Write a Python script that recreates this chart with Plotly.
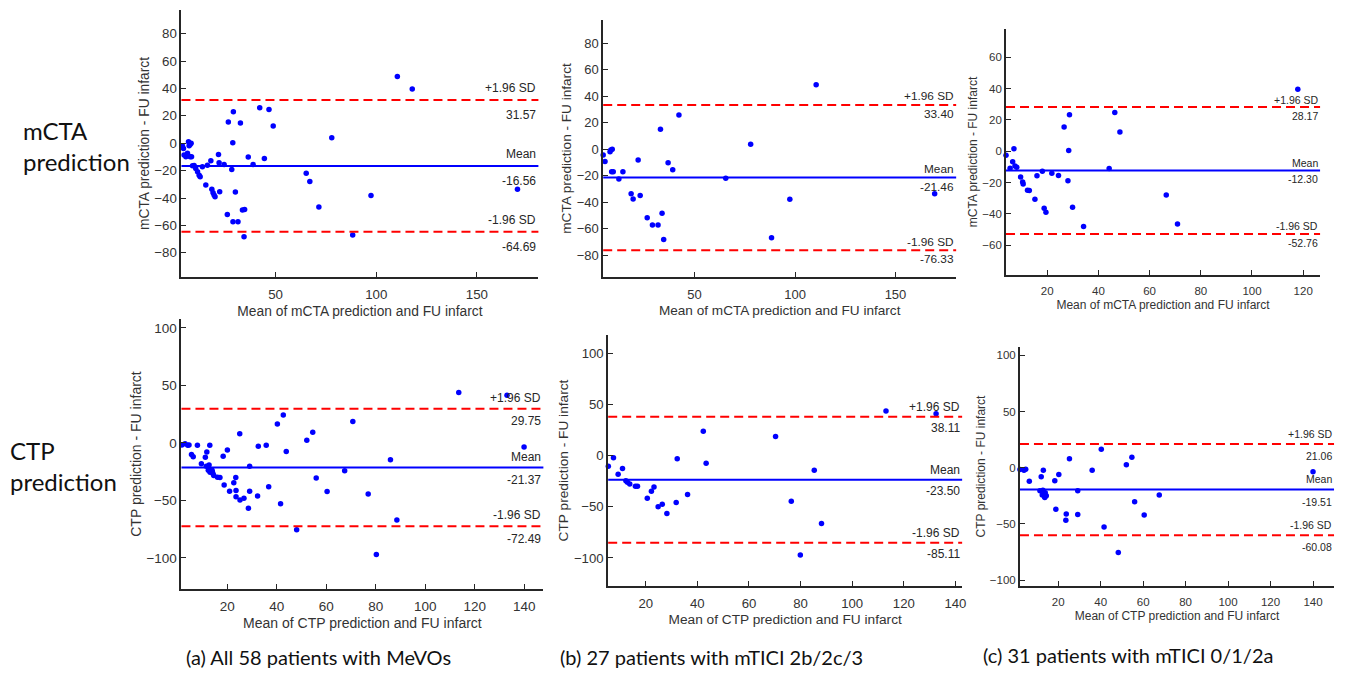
import plotly.graph_objects as go

# ---------------- DATA ----------------
# Row 1: mCTA prediction ; Row 2: CTP prediction
# (a) all 58 patients, (b) 27 patients mTICI 2b/2c/3, (c) 31 patients mTICI 0/1/2a

a_mcta_x = [2.9, 3.7, 4.2, 4.5, 5.4, 6.7, 7.5, 8.0, 7.0, 6.2, 7.5, 8.2, 8.7, 9.5, 10.3,
            11.2, 12.0, 12.5, 13.6, 15.3, 16.1, 17.8, 18.3, 18.9, 19.4, 19.9, 21.6, 21.9,
            22.2, 24.4, 26.0, 26.5, 28.2, 28.7, 29.0, 28.8, 30.0, 31.3, 32.5, 33.5, 34.6,
            34.3, 36.4, 38.8, 42.1, 44.4, 46.7, 48.8, 65.2, 67.0, 71.5, 77.9, 88.3, 97.4,
            110.5, 117.9, 170.2]
a_mcta_y = [0.0, -2.0, -3.8, -8.6, -9.9, 1.1, -0.9, 0.0, -1.8, -7.4, -9.9, -9.9, -16.4,
            -16.2, -18.4, -20.8, -23.3, -24.5, -17.2, -30.6, -16.0, -12.8, -33.7, -36.2,
            -37.9, -39.1, -8.2, -14.2, -35.4, -15.5, -52.0, 15.5, -19.1, 0.4, 23.0, -57.4,
            -35.7, -57.4, 14.7, -48.8, -48.4, -68.3, -10.1, -15.5, 25.9, -11.1, 24.7, 12.5,
            -22.0, -27.9, -46.6, 4.0, -67.1, -38.1, 48.8, 39.6, -33.7]

b_mcta_x = [4.5, 5.4, 7.9, 8.3, 9.0, 8.7, 9.5, 12.3, 14.3, 18.4, 19.4, 21.9, 22.9, 26.4,
            29.0, 31.8, 33.0, 33.8, 34.6, 36.8, 39.1, 42.2, 65.5, 77.9, 88.3, 97.4, 110.5,
            169.5]
b_mcta_y = [-4.4, -9.4, -1.9, -0.6, 0.0, -17.0, -17.0, -22.5, -17.0, -33.6, -37.7, -8.2,
            -35.1, -51.8, -57.3, -57.3, 15.0, -48.5, -68.2, -10.2, -15.5, 25.8, -22.0, 3.7,
            -66.9, -37.9, 48.7, -33.6]

c_mcta_x = [3.2, 3.9, 5.5, 6.5, 7.0, 7.4, 8.1, 9.6, 10.4, 10.6, 12.3, 13.0, 15.2, 16.0,
            18.1, 18.8, 19.5, 21.8, 24.4, 26.6, 28.1, 28.4, 28.7, 29.9, 34.2, 44.2, 46.4,
            48.4, 66.5, 70.9, 117.9]
c_mcta_y = [0.4, -2.6, -10.9, -6.8, 1.5, -9.4, -10.2, -16.4, -19.6, -20.9, -24.9, -25.1,
            -30.6, -15.7, -12.8, -36.4, -38.9, -14.0, -15.5, 15.5, -18.9, 0.4, 23.2, -35.7,
            -48.1, -11.1, 24.7, 12.3, -27.9, -46.4, 39.6]

a_ctp_x = [1.6, 2.9, 4.0, 4.5, 5.5, 6.2, 7.9, 9.5, 11.1, 11.7, 11.5, 12.6, 12.9, 12.3,
           13.0, 13.7, 14.2, 13.9, 14.5, 16.0, 17.0, 18.3, 18.7, 20.0, 20.9, 22.6, 23.4,
           23.5, 23.5, 25.0, 25.1, 26.7, 28.5, 29.0, 29.0, 32.2, 32.5, 35.7, 36.7, 40.2,
           41.5, 42.6, 43.8, 48.0, 52.1, 54.5, 55.9, 60.3, 67.4, 70.7, 76.9, 80.2, 85.9,
           88.5, 113.5, 133.0, 139.9]
a_ctp_y = [-1.7, -0.6, -2.0, -1.7, -10.1, -11.9, -2.0, -18.0, -12.5, -7.8, -20.3, -19.1,
           -2.0, -23.8, -25.5, -23.2, -26.7, -24.6, -28.4, -29.9, -30.1, -11.6, -36.5, -6.1,
           -42.0, -34.5, -30.1, -41.4, -46.7, 8.1, -49.6, -48.1, -56.8, -20.3, -42.0, -46.1,
           -2.9, -2.0, -38.0, 16.5, -52.8, 24.3, -7.5, -75.4, 2.3, 9.3, -30.4, -42.3, -24.1,
           18.6, -44.3, -97.1, -14.5, -67.0, 43.8, 41.4, -3.5]

b_ctp_x = [5.5, 7.5, 9.3, 11.0, 12.3, 12.9, 13.8, 16.0, 16.8, 20.6, 22.2, 23.2, 24.8,
           26.4, 28.2, 31.8, 32.2, 36.2, 42.3, 43.4, 70.3, 76.4, 79.9, 85.3, 88.1, 113.1,
           132.5]
b_ctp_y = [-10.3, -2.1, -18.1, -12.6, -24.6, -25.9, -27.6, -29.9, -29.9, -41.6, -34.8,
           -30.5, -49.8, -47.5, -56.6, -45.8, -3.1, -38.0, 24.0, -7.3, 18.8, -44.5, -97.1,
           -14.2, -66.4, 43.6, 40.9]

c_ctp_x = [2.0, 3.9, 4.7, 6.4, 12.0, 11.4, 13.0, 12.8, 12.5, 13.6, 13.9, 14.4, 13.7, 18.4,
           18.9, 20.3, 23.8, 23.6, 25.3, 29.2, 29.2, 36.0, 40.3, 41.6, 48.3, 52.1, 54.7,
           56.0, 60.5, 67.6, 140.0]
c_ctp_y = [-1.6, -2.2, -1.3, -12.0, -8.1, -20.6, -2.2, -20.0, -24.4, -25.9, -22.4, -25.0,
           -26.5, -11.7, -36.9, -6.1, -41.3, -46.7, 7.9, -20.6, -41.6, -2.2, 16.4, -52.9,
           -75.4, 2.5, 9.3, -30.4, -42.2, -24.4, -3.7]

# Bland-Altman statistics: [+1.96 SD, mean, -1.96 SD]
a_mcta_stats = [31.57, -16.56, -64.69]
b_mcta_stats = [33.40, -21.46, -76.33]
c_mcta_stats = [28.17, -12.30, -52.76]
a_ctp_stats = [29.75, -21.37, -72.49]
b_ctp_stats = [38.11, -23.50, -85.11]
c_ctp_stats = [21.06, -19.51, -60.08]

stat_labels = ["+1.96 SD", "Mean", "-1.96 SD"]

# tick values
top_ab_xticks = [50, 100, 150]
top_c_xticks = [20, 40, 60, 80, 100, 120]
bottom_xticks = [20, 40, 60, 80, 100, 120, 140]
top_ab_yticks = [-80, -60, -40, -20, 0, 20, 40, 60, 80]
top_c_yticks = [-60, -40, -20, 0, 20, 40, 60]
bottom_yticks = [-100, -50, 0, 50, 100]

mcta_xtitle = "Mean of mCTA prediction and FU infarct"
mcta_ytitle = "mCTA prediction - FU infarct"
ctp_xtitle = "Mean of CTP prediction and FU infarct"
ctp_ytitle = "CTP prediction - FU infarct"

row_labels = ["mCTA<br>prediction", "CTP<br>prediction"]
captions = ["(a) All 58 patients with MeVOs",
            "(b) 27 patients with mTICI 2b/2c/3",
            "(c) 31 patients with mTICI 0/1/2a"]

# ---------------- LAYOUT / STYLE ----------------
W, H = 1349, 675

panels = [
    # data, stats, ticks, titles, pixel box (x0,x1,y0,y1), ranges, fonts(tick,title,annot), offsets(above,below)
    dict(x=a_mcta_x, y=a_mcta_y, s=a_mcta_stats, xt=top_ab_xticks, yt=top_ab_yticks,
         xtitle=mcta_xtitle, ytitle=mcta_ytitle, box=(182, 540, 10, 277),
         xr=[3.2, 180.6], yr=[-97.7, 97.3], f=(13.3, 13.8, 12), off=(12, 15)),
    dict(x=b_mcta_x, y=b_mcta_y, s=b_mcta_stats, xt=top_ab_xticks, yt=top_ab_yticks,
         xtitle=mcta_xtitle, ytitle=mcta_ytitle, box=(605, 959, 20, 277),
         xr=[4.5, 180.2], yr=[-96.6, 97.6], f=(13, 13.6, 11.8), off=(8.5, 9)),
    dict(x=c_mcta_x, y=c_mcta_y, s=c_mcta_stats, xt=top_c_xticks, yt=top_c_yticks,
         xtitle=mcta_xtitle, ytitle=mcta_ytitle, box=(1009, 1324, 29, 275),
         xr=[3.9, 126.6], yr=[-79, 78], f=(11.5, 12, 10.5), off=(7.5, 9)),
    dict(x=a_ctp_x, y=a_ctp_y, s=a_ctp_stats, xt=bottom_xticks, yt=bottom_yticks,
         xtitle=ctp_xtitle, ytitle=ctp_ytitle, box=(182, 545, 319, 589),
         xr=[1.45, 147.7], yr=[-127, 107.8], f=(13.5, 14, 12), off=(11, 12.7)),
    dict(x=b_ctp_x, y=b_ctp_y, s=b_ctp_stats, xt=bottom_xticks, yt=bottom_yticks,
         xtitle=ctp_xtitle, ytitle=ctp_ytitle, box=(610, 965, 335, 586),
         xr=[5.45, 142.6], yr=[-127.4, 118], f=(13.2, 13.7, 12), off=(9.3, 11)),
    dict(x=c_ctp_x, y=c_ctp_y, s=c_ctp_stats, xt=bottom_xticks, yt=bottom_yticks,
         xtitle=ctp_xtitle, ytitle=ctp_ytitle, box=(1023, 1338, 347, 586),
         xr=[2.0, 149.9], yr=[-105.3, 107.4], f=(11.5, 12, 10.5), off=(10.5, 12.3)),
]

AX = "#262626"
LBL = "#333333"
FONT = "Liberation Sans, Arial, sans-serif"

fig = go.Figure()
layout = dict(width=W, height=H, margin=dict(l=0, r=0, t=0, b=0),
              paper_bgcolor="white", plot_bgcolor="white", showlegend=False,
              font=dict(family=FONT, color=LBL))
shapes, annotations = [], []

for i, p in enumerate(panels, start=1):
    sx = "" if i == 1 else str(i)
    xa, ya = "x" + sx, "y" + sx
    x0, x1, y0, y1 = p["box"]
    ft, fti, fa = p["f"]
    common = dict(showgrid=False, zeroline=False, showline=True, linecolor=AX, linewidth=1.8,
                  ticks="inside", ticklen=5, tickwidth=1.3, tickcolor=AX, mirror=False)
    layout["xaxis" + sx] = dict(common, domain=[x0 / W, x1 / W], anchor=ya, range=p["xr"],
                                tickvals=p["xt"], tickfont=dict(size=ft, color=LBL),
                                ticklabelstandoff=4,
                                title=dict(text=p["xtitle"], font=dict(size=fti, color=LBL), standoff=5))
    layout["yaxis" + sx] = dict(common, domain=[1 - y1 / H, 1 - y0 / H], anchor=xa, range=p["yr"],
                                tickvals=p["yt"], tickfont=dict(size=ft, color=LBL),
                                title=dict(text=p["ytitle"], font=dict(size=fti, color=LBL), standoff=2))
    fig.add_trace(go.Scatter(x=p["x"], y=p["y"], mode="markers", xaxis=xa, yaxis=ya,
                             cliponaxis=False,
                             marker=dict(color="#0000FF", size=5.5, line=dict(width=0))))
    for k, val in enumerate(p["s"]):
        is_mean = (k == 1)
        shapes.append(dict(type="line", xref=xa + " domain", yref=ya, x0=0, x1=1, y0=val, y1=val,
                           line=dict(color="#0000FF" if is_mean else "#FF0000", width=2,
                                     dash="solid" if is_mean else "9px,5px")))
        annotations.append(dict(xref=xa + " domain", yref=ya, x=1, y=val, xanchor="right",
                                yanchor="middle", yshift=p["off"][0], text=stat_labels[k],
                                showarrow=False, font=dict(size=fa, color=AX, family=FONT)))
        annotations.append(dict(xref=xa + " domain", yref=ya, x=1, y=val, xanchor="right",
                                yanchor="middle", yshift=-p["off"][1], text=f"{val:.2f}",
                                showarrow=False, font=dict(size=fa, color=AX, family=FONT)))

# row labels
row_pos = [(21, 146), (8, 466)]
for txt, (px, py) in zip(row_labels, row_pos):
    annotations.append(dict(xref="paper", yref="paper", x=px / W, y=1 - py / H, xanchor="left",
                            yanchor="middle", align="left", text=txt, showarrow=False,
                            font=dict(family="Lato, Noto Sans, sans-serif", size=24, color="#111")))

# captions
cap_pos = [(319, 657), (714, 657), (1131, 655)]
for txt, (px, py) in zip(captions, cap_pos):
    annotations.append(dict(xref="paper", yref="paper", x=px / W, y=1 - py / H, xanchor="center",
                            yanchor="middle", text=txt, showarrow=False,
                            font=dict(family="Lato, Noto Sans, sans-serif", size=20, color="#111")))

layout["shapes"] = shapes
layout["annotations"] = annotations
fig.update_layout(**layout)
fig.write_html("out.html", config={"displayModeBar": False},
               post_script="document.body.style.margin='0';document.body.style.overflow='hidden';")
